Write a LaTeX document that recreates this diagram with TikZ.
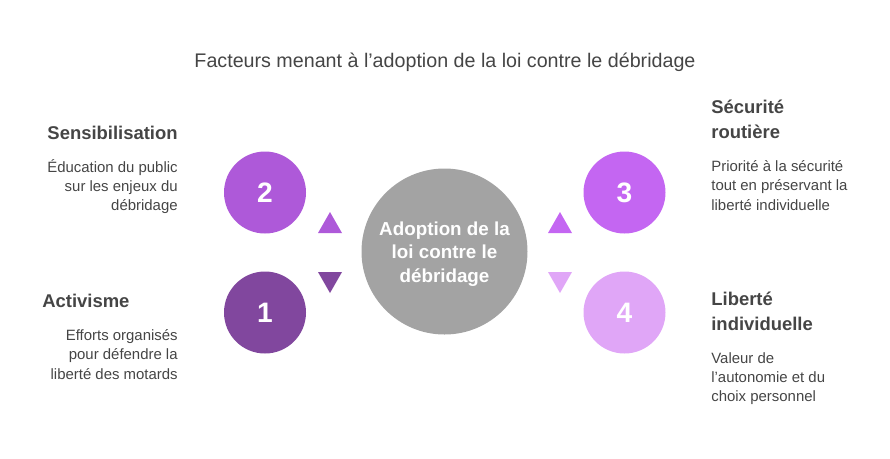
\documentclass[tikz,border=0pt]{standalone}
\usepackage{fontspec}
\setmainfont{Liberation Sans}
\usepackage{tikz}

\definecolor{txtgray}{HTML}{454545}
\definecolor{ctrgray}{HTML}{A3A3A3}
\definecolor{purpA}{HTML}{81479E}
\definecolor{purpB}{HTML}{AE59D9}
\definecolor{purpC}{HTML}{C466F2}
\definecolor{purpD}{HTML}{E0A6F7}

\tikzset{
  numcircle/.style={circle, minimum size=82*0.02cm, inner sep=0pt, text=white, font=\fontsize{16}{18}\selectfont\bfseries},
  heading/.style={text=txtgray, font=\fontsize{10.5}{14.2}\selectfont\bfseries, inner sep=0pt},
  desc/.style={text=txtgray, font=\fontsize{8.5}{11}\selectfont, inner sep=0pt}
}

\begin{document}
\begin{tikzpicture}[x=0.02cm, y=-0.02cm]
\useasboundingbox (0, 0) rectangle (890, 458);

\node[text=txtgray, font=\fontsize{11.2}{13}\selectfont] (title) at (445, 62) {Facteurs menant à l'adoption de la loi contre le débridage};

\node[circle, fill=ctrgray, minimum size=166*0.02cm, inner sep=0pt, text=white, align=center,
      font=\fontsize{10.7}{13.3}\selectfont\bfseries] (center) at (444.5, 251.5) {};
\node[text=white, align=center, inner sep=0pt,
      font=\fontsize{10.7}{13.3}\selectfont\bfseries] (ctext) at (444.5, 254) {Adoption de la\\loi contre le\\débridage};

\node[numcircle, fill=purpB] (c2) at (265, 192.5) {2};
\node[numcircle, fill=purpA] (c1) at (265, 312.5) {1};
\node[numcircle, fill=purpC] (c3) at (624.5, 192.5) {3};
\node[numcircle, fill=purpD] (c4) at (624.5, 312.5) {4};

\fill[purpB] (318, 233) -- (330, 212) -- (342, 233) -- cycle;
\fill[purpA] (318, 272) -- (330, 293) -- (342, 272) -- cycle;
\fill[purpC] (548, 233) -- (560, 212) -- (572, 233) -- cycle;
\fill[purpD] (548, 272) -- (560, 293) -- (572, 272) -- cycle;

\node[heading, anchor=east] (h2) at (178, 133) {Sensibilisation};
\node[desc, anchor=north east, align=right] (d2) at (178, 159) {Éducation du public\\sur les enjeux du\\débridage};

\node[heading, anchor=west] (h1) at (42, 301) {Activisme};
\node[desc, anchor=north east, align=right] (d1) at (178, 329) {Efforts organisés\\pour défendre la\\liberté des motards};

\node[heading, anchor=north west, align=left] (h3) at (711, 100) {Sécurité\\routière};
\node[desc, anchor=north west, align=left] (d3) at (711, 160) {Priorité à la sécurité\\tout en préservant la\\liberté individuelle};

\node[heading, anchor=north west, align=left] (h4) at (711, 292) {Liberté\\individuelle};
\node[desc, anchor=north west, align=left] (d4) at (711, 352) {Valeur de\\l'autonomie et du\\choix personnel};

\end{tikzpicture}
\end{document}
